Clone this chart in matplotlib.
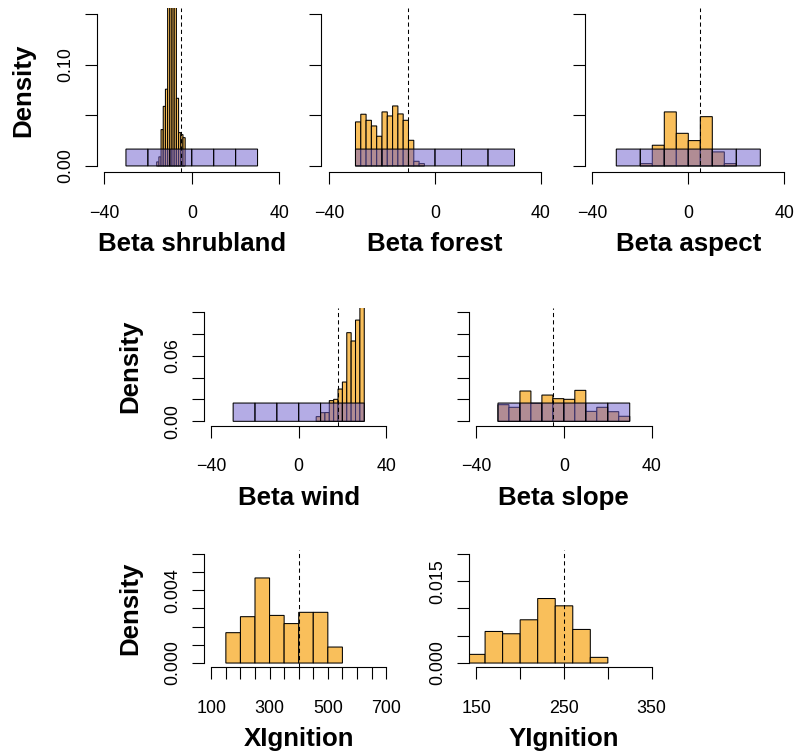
import numpy as np
import matplotlib
matplotlib.use("Agg")
import matplotlib.pyplot as plt

plt.rcParams['font.family'] = ['Liberation Sans', 'DejaVu Sans']

#%% --- Data ---

# prior: uniform on [-30, 30], bins of 10
prior_breaks = [-30, -20, -10, 0, 10, 20, 30]
prior_density = [0.0167, 0.0167, 0.0167, 0.0167, 0.0167, 0.0167]

shrub_breaks = [-16, -15, -14, -13, -12, -11, -10, -9, -8, -7, -6, -5, -4, -3]
shrub_density = [0.004, 0.009, 0.036, 0.059, 0.076, 0.165, 0.17, 0.168, 0.16,
                 0.067, 0.033, 0.031, 0.028]

forest_breaks = [-30, -28, -26, -24, -22, -20, -18, -16, -14, -12, -10, -8, -6, -4]
forest_density = [0.0436, 0.0512, 0.0452, 0.0396, 0.0294, 0.0535, 0.0495,
                  0.0594, 0.0515, 0.0452, 0.0254, 0.0046, 0.0023]

aspect_breaks = [-20, -15, -10, -5, 0, 5, 10, 15, 20]
aspect_density = [0.0023, 0.0205, 0.0535, 0.0323, 0.0251, 0.0488, 0.0139, 0.0023]

wind_breaks = [8, 10, 12, 14, 16, 18, 20, 22, 24, 26, 28, 30]
wind_density = [0.0043, 0.0079, 0.008, 0.0189, 0.0201, 0.0295, 0.0359,
                0.081, 0.0734, 0.0925, 0.128]

slope_breaks = [-30, -25, -20, -15, -10, -5, 0, 5, 10, 15, 20, 25, 30]
slope_density = [0.0152, 0.0128, 0.0277, 0.0165, 0.024, 0.0207, 0.0201,
                 0.0283, 0.0091, 0.0128, 0.0088, 0.0046]

xign_breaks = [150, 200, 250, 300, 350, 400, 450, 500, 550]
xign_density = [0.00167, 0.00255, 0.00468, 0.00262, 0.00217, 0.00279, 0.00279, 0.00088]

yign_breaks = [140, 160, 180, 200, 220, 240, 260, 280, 300]
yign_density = [0.00159, 0.00579, 0.00537, 0.00793, 0.01183, 0.01049, 0.00616, 0.00104]

# true parameter values (dashed lines)
true_values = {"shrub": -5, "forest": -10, "aspect": 5, "wind": 18,
               "slope": -5, "xign": 400, "yign": 250}

beta_ticks = [-40, 0, 40]
beta_ticklabels = ["\u221240", "0", "40"]
xign_ticks = [100, 150, 200, 250, 300, 350, 400, 450, 500, 550, 600, 650, 700]
xign_ticklabels = ["100", "", "", "", "300", "", "", "", "500", "", "", "", "700"]
yign_ticks = [150, 200, 250, 300, 350]
yign_ticklabels = ["150", "", "250", "", "350"]

row1_yticks = [0.0, 0.05, 0.10, 0.15]
row1_ylabels = ["0.00", "", "0.10", ""]
row2_yticks = [0.0, 0.02, 0.04, 0.06, 0.08, 0.10]
row2_ylabels = ["0.00", "", "", "0.06", "", ""]
xign_yticks = [0.0, 0.001, 0.002, 0.003, 0.004, 0.005, 0.006]
xign_ylabels = ["0.000", "", "", "", "0.004", "", ""]
yign_yticks = [0.0, 0.005, 0.010, 0.015, 0.020]
yign_ylabels = ["0.000", "", "", "0.015", ""]

#%% --- Style ---
W, H, DPI = 798, 753, 100
orange = "#F9BF5B"
purple = (106 / 255, 90 / 255, 205 / 255, 0.5)
tick_fs = 12.9
lab_fs = 18.6

fig = plt.figure(figsize=(W / DPI, H / DPI), dpi=DPI)


def make_ax(box):
    # box in pixels: left, top, right, bottom
    l, t, r, b = box
    return fig.add_axes([l / W, 1 - b / H, (r - l) / W, (b - t) / H])


def draw_hist(ax, breaks, dens, color):
    breaks = np.asarray(breaks, float)
    bars = ax.bar(breaks[:-1], dens, width=np.diff(breaks), align="edge",
                  color=color, edgecolor="black", linewidth=0.75)
    for p in bars:
        p.set_snap(False)


def panel(box, breaks, dens, xlim, ylim, xticks, xticklabels, yticks,
          yticklabels, xlabel, truth, prior=True, ylabel=False):
    ax = make_ax(box)
    draw_hist(ax, breaks, dens, orange)
    if prior:
        draw_hist(ax, prior_breaks, prior_density, purple)
    ax.axvline(truth, color="black", lw=0.75, linestyle=(0, (4, 3)))
    ax.set_xlim(xlim)
    ax.set_ylim(ylim)
    ax.set_xticks(xticks)
    ax.set_xticklabels(xticklabels, fontsize=tick_fs)
    ax.set_yticks(yticks)
    ax.set_yticklabels(yticklabels, fontsize=tick_fs, rotation=90, va="center")
    for s in ["top", "right"]:
        ax.spines[s].set_visible(False)
    ax.spines["left"].set_bounds(yticks[0], yticks[-1])
    ax.spines["bottom"].set_bounds(xticks[0], xticks[-1])
    for s in ["left", "bottom"]:
        ax.spines[s].set_linewidth(0.8)
    ax.tick_params(axis="both", length=8.4, width=0.8)
    ax.tick_params(axis="x", pad=15)
    ax.tick_params(axis="y", pad=8.3)
    w_px = box[2] - box[0]
    h_px = box[3] - box[1]
    ax.set_xlabel(xlabel, fontsize=lab_fs, fontweight="bold")
    ax.xaxis.set_label_coords(0.5, -60 / h_px)
    if ylabel:
        ax.set_ylabel("Density", fontsize=lab_fs, fontweight="bold")
        ax.yaxis.set_label_coords(-62 / w_px, 0.5)
    return ax


beta_xlim = (-43.2, 43.2)

# --- Row 1 ---
panel((97, 8.4, 286.5, 172), shrub_breaks, shrub_density, beta_xlim, (-0.006, 0.156),
      beta_ticks, beta_ticklabels, row1_yticks, row1_ylabels, "Beta shrubland",
      true_values["shrub"], ylabel=True)
panel((320.5, 8.4, 549.5, 172), forest_breaks, forest_density, beta_xlim, (-0.006, 0.156),
      beta_ticks, beta_ticklabels, row1_yticks, [""] * 4, "Beta forest",
      true_values["forest"])
panel((584.6, 8.4, 792, 172), aspect_breaks, aspect_density, beta_xlim, (-0.006, 0.156),
      beta_ticks, beta_ticklabels, row1_yticks, [""] * 4, "Beta aspect",
      true_values["aspect"])

# --- Row 2 ---
panel((204.3, 307.5, 393.1, 425.7), wind_breaks, wind_density, beta_xlim, (-0.004, 0.104),
      beta_ticks, beta_ticklabels, row2_yticks, row2_ylabels, "Beta wind",
      true_values["wind"], ylabel=True)
panel((469, 307.5, 658.7, 425.7), slope_breaks, slope_density, beta_xlim, (-0.004, 0.104),
      beta_ticks, beta_ticklabels, row2_yticks, [""] * 6, "Beta slope",
      true_values["slope"])

# --- Row 3 ---
panel((204.3, 549.6, 393.1, 667.4), xign_breaks, xign_density, (76, 724), (-0.00024, 0.00624),
      xign_ticks, xign_ticklabels, xign_yticks, xign_ylabels, "XIgnition",
      true_values["xign"], prior=False, ylabel=True)
panel((469.3, 549.6, 658.7, 667.4), yign_breaks, yign_density, (142, 358), (-0.0008, 0.0208),
      yign_ticks, yign_ticklabels, yign_yticks, yign_ylabels, "YIgnition",
      true_values["yign"], prior=False)

fig.savefig("out.png", dpi=DPI)
